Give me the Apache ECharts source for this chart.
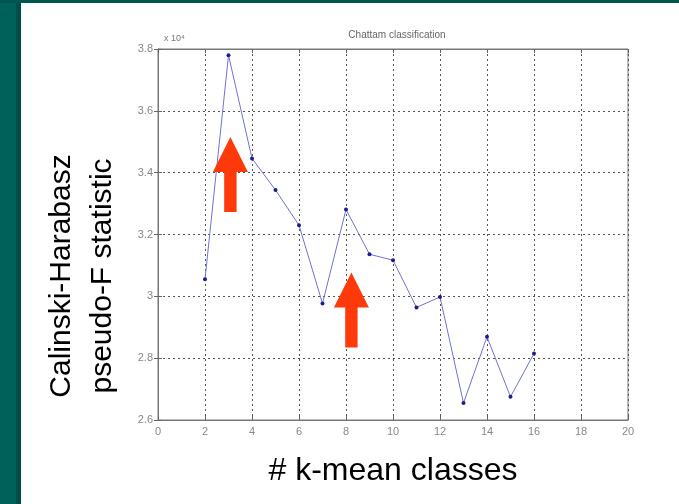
<!DOCTYPE html>
<html>
<head>
<meta charset="utf-8">
<script src="https://cdn.jsdelivr.net/npm/echarts@6/dist/echarts.min.js"></script>
<style>
  html, body { margin: 0; padding: 0; background: #fff; }
  #slide { position: relative; width: 679px; height: 504px; overflow: hidden; }
  #band { position: absolute; left: 0; top: 0; width: 16px; height: 504px; background: #00615a; }
  #band2 { position: absolute; left: 16px; top: 0; width: 5px; height: 504px; background: #004d47; }
  #topband { position: absolute; left: 0; top: 0; width: 679px; height: 3px; background: #00554f; }
  #main { position: absolute; left: 0; top: 0; width: 679px; height: 504px; }
</style>
</head>
<body>
<div id="slide">
  <div id="band"></div>
  <div id="band2"></div>
  <div id="topband"></div>
  <div id="main"></div>
</div>
<script>
// number of k-mean classes
var kClasses = [2, 3, 4, 5, 6, 7, 8, 9, 10, 11, 12, 13, 14, 15, 16];
// Calinski-Harabasz pseudo-F values
var pseudoF = [30550, 37800, 34460, 33440, 32300, 29770, 32810, 31360, 31170, 29640, 29980, 26550, 28690, 26750, 28150];
// where the red arrows point (k, value at arrow centre)
var arrowK = [3.08, 8.23];
var arrowY = [33940, 29560];

var myChart = echarts.init(document.getElementById("main"));

var points = kClasses.map(function(k, i) {
  return [k, pseudoF[i]];
});

var arrowPath = "path://M17.5 0L35 35L23.7 35L23.7 75L11.3 75L11.3 35L0 35Z";

var tickColor = "#666";
var gridLine = { show: true, lineStyle: { color: "#555", type: [2, 3], width: 1 } };

myChart.setOption({
  animation: false,
  title: {
    text: "Chattam classification",
    left: 392,
    top: 25,
    textAlign: "center",
    textStyle: { fontSize: 10, fontWeight: "normal", color: "#666", fontFamily: "Liberation Sans" }
  },
  grid: { left: 158, right: 51, top: 49, bottom: 84, show: true, borderColor: "#777", borderWidth: 1 },
  xAxis: [
    {
      type: "value",
      min: 0,
      max: 20,
      interval: 2,
      name: "# k-mean classes",
      nameLocation: "middle",
      nameGap: 35,
      nameTextStyle: { fontSize: 32, color: "#000", fontFamily: "Liberation Sans" },
      axisLine: { show: true, lineStyle: { color: "#777" } },
      axisTick: { inside: true, length: 4, lineStyle: { color: tickColor } },
      axisLabel: { color: "#888", fontSize: 11, margin: 6, fontFamily: "Liberation Sans" },
      splitLine: gridLine
    },
    {
      type: "value",
      position: "top",
      min: 0,
      max: 20,
      interval: 2,
      axisLine: { show: true, lineStyle: { color: "#777" } },
      axisTick: { inside: true, length: 4, lineStyle: { color: tickColor } },
      axisLabel: { show: false },
      splitLine: { show: false }
    }
  ],
  yAxis: [
    {
      type: "value",
      min: 26000,
      max: 38000,
      interval: 2000,
      name: "x 10\u2074",
      nameLocation: "end",
      nameGap: 6,
      nameTextStyle: { fontSize: 9, color: "#777", align: "left", padding: [0, 0, 0, 6], fontFamily: "Liberation Sans" },
      axisLine: { show: true, lineStyle: { color: "#777" } },
      axisTick: { inside: true, length: 4, lineStyle: { color: tickColor } },
      axisLabel: {
        color: "#888",
        fontSize: 11,
        margin: 5,
        fontFamily: "Liberation Sans",
        formatter: function(v) {
          return String(Math.round(v / 100) / 100);
        }
      },
      splitLine: gridLine
    },
    {
      type: "value",
      position: "right",
      min: 26000,
      max: 38000,
      interval: 2000,
      axisLine: { show: true, lineStyle: { color: "#777" } },
      axisTick: { inside: true, length: 4, lineStyle: { color: tickColor } },
      axisLabel: { show: false },
      splitLine: { show: false }
    }
  ],
  graphic: [
    {
      type: "text",
      x: 82,
      y: 276,
      rotation: Math.PI / 2,
      style: {
        text: "Calinski-Harabasz\npseudo-F statistic",
        align: "center",
        verticalAlign: "middle",
        fontSize: 30,
        lineHeight: 41,
        fontFamily: "Liberation Sans",
        fill: "#000"
      }
    }
  ],
  series: [
    {
      type: "line",
      data: points,
      symbol: "circle",
      symbolSize: 4,
      itemStyle: { color: "#1c1c8c" },
      lineStyle: { color: "#7070dc", width: 1 },
      markPoint: {
        symbol: arrowPath,
        symbolSize: [35, 75],
        symbolKeepAspect: false,
        itemStyle: { color: "#ff3a0a" },
        label: { show: false },
        data: arrowK.map(function(k, i) {
          return { coord: [k, arrowY[i]] };
        })
      }
    }
  ]
});
</script>
</body>
</html>
